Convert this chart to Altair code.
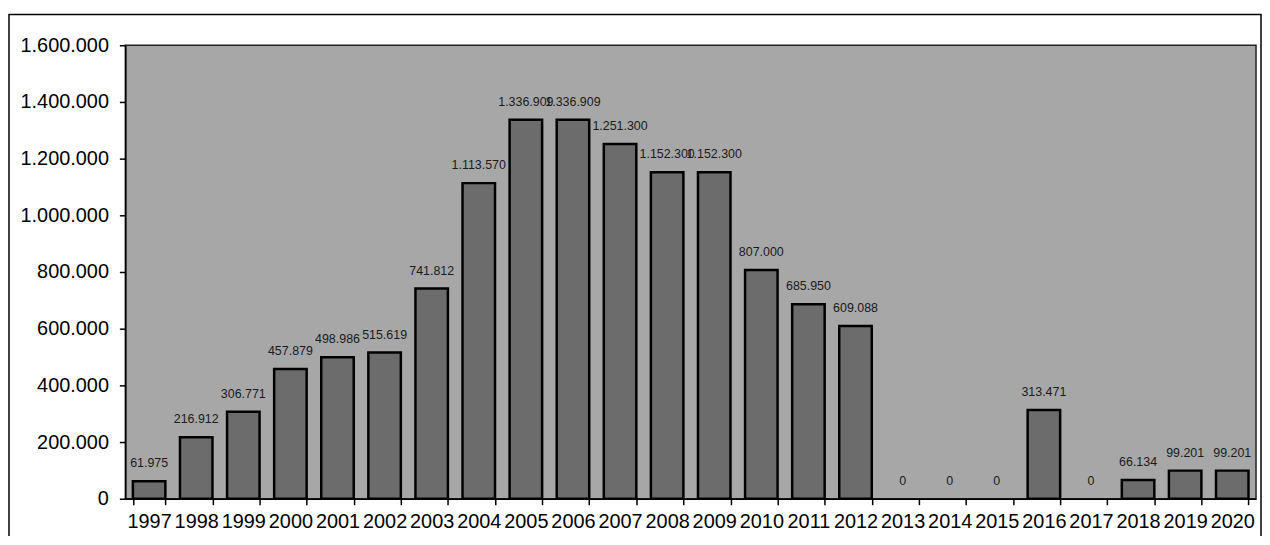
import altair as alt
import pandas as pd

years = ["1997", "1998", "1999", "2000", "2001", "2002", "2003", "2004",
         "2005", "2006", "2007", "2008", "2009", "2010", "2011", "2012",
         "2013", "2014", "2015", "2016", "2017", "2018", "2019", "2020"]
values = [61975, 216912, 306771, 457879, 498986, 515619, 741812, 1113570,
          1336909, 1336909, 1251300, 1152300, 1152300, 807000, 685950, 609088,
          0, 0, 0, 313471, 0, 66134, 99201, 99201]
y_ticks = [0, 200000, 400000, 600000, 800000, 1000000, 1200000, 1400000, 1600000]

df = pd.DataFrame({"year": years, "value": values})

FONT = "Liberation Sans"

x_enc = alt.X("year:N", sort=None, title=None,
              scale=alt.Scale(paddingInner=0.31, paddingOuter=0.16),
              axis=alt.Axis(labelAngle=0, tickBand="extent", labelFontSize=20,
                            labelFont=FONT, labelColor="#000", tickSize=6,
                            tickColor="#000", domainColor="#000", labelPadding=7,
                            labelOverlap=False, tickWidth=1.5, domainWidth=1.5))
y_enc = alt.Y("value:Q", title=None,
              scale=alt.Scale(domain=[0, 1600000], nice=False),
              axis=alt.Axis(values=y_ticks, format=",d", grid=False, labelFontSize=20,
                            labelFont=FONT, labelColor="#000", tickSize=6,
                            tickColor="#000", domainColor="#000", labelPadding=11,
                            tickWidth=1.5, domainWidth=1.5))

base = alt.Chart(df)

bars = base.mark_bar(fill="#6c6c6c", stroke="#000", strokeWidth=2.5).encode(
    x=x_enc, y=y_enc,
    strokeOpacity=alt.condition("datum.value > 0", alt.value(1), alt.value(0)))

labels = base.mark_text(baseline="bottom", dy=-11, fontSize=12.5, font=FONT,
                        color="#1a1a1a").encode(
    x=alt.X("year:N", sort=None),
    y=alt.Y("value:Q"),
    text=alt.Text("value:Q", format=",d"))

frame = alt.Chart(pd.DataFrame({"a": [0]})).mark_rect(
    fillOpacity=0, stroke="#000", strokeWidth=1.5, clip=False).encode(
    x=alt.value(-117), x2=alt.value(1142), y=alt.value(-31), y2=alt.value(600))

chart = alt.layer(frame, bars, labels).properties(
    width=1137, height=456,
    autosize=alt.AutoSizeParams(type="none"),
    padding={"left": 118, "top": 36, "right": 6, "bottom": 36},
    background="#ffffff",
).configure(
    view=alt.ViewConfig(fill="#a7a7a7", stroke="#222", strokeWidth=1.5),
    locale={"number": {"decimal": ",", "thousands": ".", "grouping": [3],
                       "currency": ["", " €"]}}
)

chart.save("out.html", embed_options={"renderer": "svg", "actions": False})
